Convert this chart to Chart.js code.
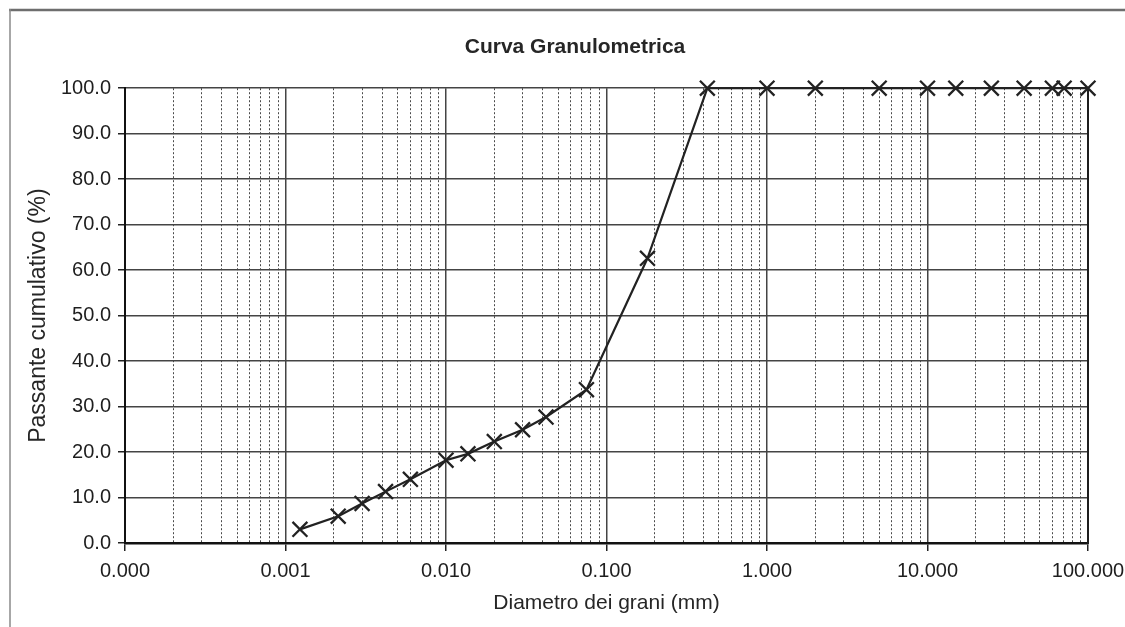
<!DOCTYPE html>
<html>
<head>
<meta charset="utf-8">
<script src="https://cdn.jsdelivr.net/npm/chart.js@4/dist/chart.umd.min.js"></script>
<style>
  html, body { margin: 0; padding: 0; background: #ffffff; }
  #c { display: block; }
</style>
</head>
<body>
<canvas id="c" width="1125" height="627"></canvas>
<script>
// ---- Data ----
const chartTitle = 'Curva Granulometrica';
const xAxisTitle = 'Diametro dei grani (mm)';
const yAxisTitle = 'Passante cumulativo (%)';

const diameters = [0.00123, 0.00213, 0.0030, 0.0042, 0.0060, 0.0100, 0.0137, 0.0200, 0.0300, 0.0420, 0.0750, 0.180, 0.425, 1, 2, 5, 10, 15, 25, 40, 60, 71, 100];
const passing   = [3.0, 5.9, 8.7, 11.3, 14.0, 18.2, 19.6, 22.3, 24.9, 27.7, 33.7, 62.6, 100, 100, 100, 100, 100, 100, 100, 100, 100, 100, 100];

const xDecades    = [0.0001, 0.001, 0.01, 0.1, 1, 10, 100];
const xTickLabels = ['0.000', '0.001', '0.010', '0.100', '1.000', '10.000', '100.000'];
const yTicks      = [0, 10, 20, 30, 40, 50, 60, 70, 80, 90, 100];
const yTickLabels = ['0.0', '10.0', '20.0', '30.0', '40.0', '50.0', '60.0', '70.0', '80.0', '90.0', '100.0'];

// ---- helpers ----
const FONT = '"Liberation Sans", Arial, Helvetica, sans-serif';
const isDecade = v => Math.abs(Math.log10(v) - Math.round(Math.log10(v))) < 1e-9;
const decadeIndex = v => xDecades.findIndex(d => Math.abs(Math.log10(d) - Math.log10(v)) < 1e-9);

// all log grid positions (1..9 x 10^k) between the decade ends
const xGridValues = [];
for (let i = 0; i < xDecades.length; i++) {
  const d = xDecades[i];
  xGridValues.push(d);
  if (i < xDecades.length - 1) {
    for (let m = 2; m <= 9; m++) xGridValues.push(+(d * m).toPrecision(6));
  }
}

const points = diameters.map((d, i) => ({ x: d, y: passing[i] }));

const framePlugin = {
  id: 'frame',
  beforeDraw(chart) {
    const ctx = chart.ctx;
    ctx.save();
    ctx.fillStyle = '#ffffff';
    ctx.fillRect(0, 0, chart.width, chart.height);
    ctx.strokeStyle = '#6e6e6e';
    ctx.lineWidth = 2.5;
    ctx.beginPath();
    ctx.moveTo(9, 10);
    ctx.lineTo(chart.width, 10);
    ctx.stroke();
    ctx.strokeStyle = '#8a8a8a';
    ctx.lineWidth = 1.5;
    ctx.beginPath();
    ctx.moveTo(10, 9);
    ctx.lineTo(10, chart.height);
    ctx.stroke();
    ctx.restore();
  }
};

new Chart(document.getElementById('c'), {
  type: 'line',
  data: {
    datasets: [{
      label: 'Passante',
      data: points,
      borderColor: '#222222',
      borderWidth: 2.2,
      pointStyle: 'crossRot',
      pointRadius: 10.5,
      pointHoverRadius: 10.5,
      pointBorderWidth: 2.3,
      pointBorderColor: '#222222',
      pointBackgroundColor: '#222222',
      tension: 0,
      fill: false,
      clip: false
    }]
  },
  options: {
    responsive: false,
    animation: false,
    events: [],
    layout: { padding: { left: 25, right: 0, top: 10, bottom: 6 } },
    plugins: {
      legend: { display: false },
      tooltip: { enabled: false },
      title: {
        display: true,
        text: chartTitle,
        color: '#262626',
        font: { family: FONT, size: 21, weight: 'bold' },
        padding: { top: 25, bottom: 28 }
      }
    },
    scales: {
      x: {
        type: 'logarithmic',
        position: 'bottom',
        min: xDecades[0],
        max: xDecades[xDecades.length - 1],
        afterBuildTicks(scale) {
          scale.ticks = xGridValues.map(v => ({ value: v, major: isDecade(v) }));
        },
        afterFit(scale) {
          scale.height = 78;
          scale.paddingLeft = 0;
          scale.paddingRight = 0;
        },
        ticks: {
          autoSkip: false,
          maxRotation: 0,
          minRotation: 0,
          padding: 8,
          color: '#1e1e1e',
          font: { family: FONT, size: 20 },
          callback(value) {
            const i = decadeIndex(value);
            return i >= 0 ? xTickLabels[i] : '';
          }
        },
        grid: {
          drawOnChartArea: true,
          drawTicks: true,
          tickLength: 8,
          color: ctx => (ctx.tick && isDecade(ctx.tick.value)) ? '#444444' : '#4a4a4a',
          lineWidth: ctx => (ctx.tick && isDecade(ctx.tick.value)) ? 1.5 : 1,
          tickColor: ctx => (ctx.tick && isDecade(ctx.tick.value)) ? '#222222' : 'rgba(0,0,0,0)',
          tickWidth: 1.5
        },
        border: {
          display: true,
          color: '#111111',
          width: 2.5,
          dash: ctx => (ctx.tick && !isDecade(ctx.tick.value)) ? [2, 2] : []
        },
        title: {
          display: true,
          text: xAxisTitle,
          color: '#262626',
          font: { family: FONT, size: 21 },
          padding: { top: 0, bottom: 5 }
        }
      },
      y: {
        type: 'linear',
        position: 'left',
        min: 0,
        max: 100,
        afterBuildTicks(scale) {
          scale.ticks = yTicks.map(v => ({ value: v }));
        },
        afterFit(scale) { scale.width = 100; },
        ticks: {
          padding: 7,
          color: '#1e1e1e',
          font: { family: FONT, size: 20 },
          callback(value) {
            const i = yTicks.indexOf(value);
            return i >= 0 ? yTickLabels[i] : '';
          }
        },
        grid: {
          color: '#444444',
          lineWidth: 1.5,
          tickLength: 7,
          tickColor: '#222222',
          tickWidth: 1.5
        },
        border: { display: true, color: '#111111', width: 2 },
        title: {
          display: true,
          text: yAxisTitle,
          color: '#262626',
          font: { family: FONT, size: 23 },
          padding: { top: 0, bottom: 0 }
        }
      },
      yRight: {
        type: 'linear',
        position: 'right',
        min: 0,
        max: 100,
        afterFit(scale) { scale.width = 37; },
        ticks: { display: false },
        grid: { display: false, drawOnChartArea: false, drawTicks: false },
        border: { display: true, color: '#1e1e1e', width: 2 },
        title: { display: false }
      }
    }
  },
  plugins: [framePlugin]
});
</script>
</body>
</html>
